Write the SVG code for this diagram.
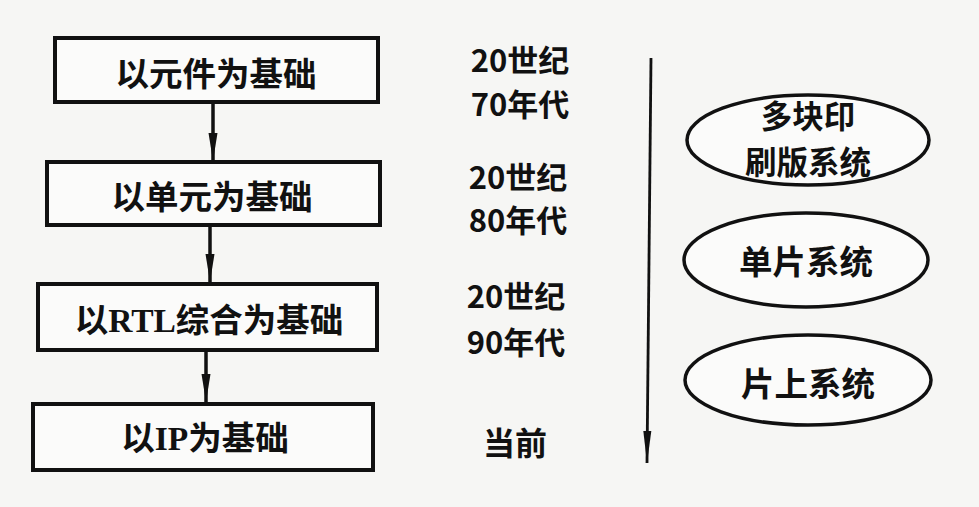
<svg xmlns="http://www.w3.org/2000/svg" width="979" height="507" viewBox="0 0 979 507">
  <defs>
    <style>
      .box { fill: #fbfbfa; stroke: #111; stroke-width: 4; }
      .ell { fill: #fbfbfa; stroke: #111; stroke-width: 3.5; }
      .lbl { font-family: "Noto Sans CJK SC", "Noto Sans", sans-serif; font-weight: 700; fill: #111; text-anchor: middle; }
      .lat { font-family: "Liberation Serif", "Noto Sans CJK SC", serif; font-weight: 700; }
      .b { font-size: 33.5px; }
      .t { font-size: 31px; }
      .conn { stroke: #111; stroke-width: 3.5; fill: none; }
    </style>
    <marker id="ah" markerUnits="userSpaceOnUse" viewBox="0 0 28 10" refX="28" refY="5" markerWidth="28" markerHeight="10" orient="auto">
      <path d="M0,0.5 L28,5 L0,9.5 z" fill="#111"/>
    </marker>
    <marker id="ah2" markerUnits="userSpaceOnUse" viewBox="0 0 32 10" refX="32" refY="5" markerWidth="32" markerHeight="10" orient="auto">
      <path d="M0,1 L32,5 L0,9 z" fill="#111"/>
    </marker>
  </defs>
  <rect x="0" y="0" width="979" height="507" fill="#f6f6f4"/>

  <g id="connectors">
    <line class="conn" x1="213" y1="102" x2="213" y2="161" marker-end="url(#ah)"/>
    <line class="conn" x1="210" y1="225" x2="210" y2="282" marker-end="url(#ah)"/>
    <line class="conn" x1="206" y1="350" x2="206" y2="402" marker-end="url(#ah)"/>
    <line class="conn" style="stroke-width:2.8" x1="651" y1="58" x2="647" y2="463" marker-end="url(#ah2)"/>
  </g>

  <g id="node-component">
    <rect class="box" x="55" y="38" width="323" height="64"/>
    <text class="lbl b" x="216" y="86">以元件为基础</text>
  </g>
  <g id="node-cell">
    <rect class="box" x="47" y="162" width="333" height="63"/>
    <text class="lbl b" x="212" y="209">以单元为基础</text>
  </g>
  <g id="node-rtl">
    <rect class="box" x="38" y="284" width="339" height="66"/>
    <text class="lbl b" x="209" y="332">以<tspan class="lat">RTL</tspan>综合为基础</text>
  </g>
  <g id="node-ip">
    <rect class="box" x="33" y="404" width="340" height="66"/>
    <text class="lbl b" x="205" y="450">以<tspan class="lat">IP</tspan>为基础</text>
  </g>

  <g id="era-70s">
    <text class="lbl t" x="520" y="72"><tspan x="520" y="72">20世纪</tspan><tspan x="520" y="116">70年代</tspan></text>
  </g>
  <g id="era-80s">
    <text class="lbl t" x="518" y="189"><tspan x="518" y="189">20世纪</tspan><tspan x="518" y="232">80年代</tspan></text>
  </g>
  <g id="era-90s">
    <text class="lbl t" x="516" y="308"><tspan x="516" y="308">20世纪</tspan><tspan x="516" y="354">90年代</tspan></text>
  </g>
  <g id="era-now">
    <text class="lbl" style="font-size:32px" x="515" y="455">当前</text>
  </g>

  <g id="sys-multiboard">
    <ellipse class="ell" cx="808" cy="140" rx="121" ry="45"/>
    <text class="lbl" style="font-size:31.5px" x="808" y="128"><tspan x="808" y="128">多块印</tspan><tspan x="808" y="174">刷版系统</tspan></text>
  </g>
  <g id="sys-singlechip">
    <ellipse class="ell" cx="806" cy="260" rx="122" ry="47"/>
    <text class="lbl b" x="806" y="274">单片系统</text>
  </g>
  <g id="sys-soc">
    <ellipse class="ell" cx="808" cy="380" rx="123" ry="45"/>
    <text class="lbl b" x="808" y="396">片上系统</text>
  </g>
</svg>
